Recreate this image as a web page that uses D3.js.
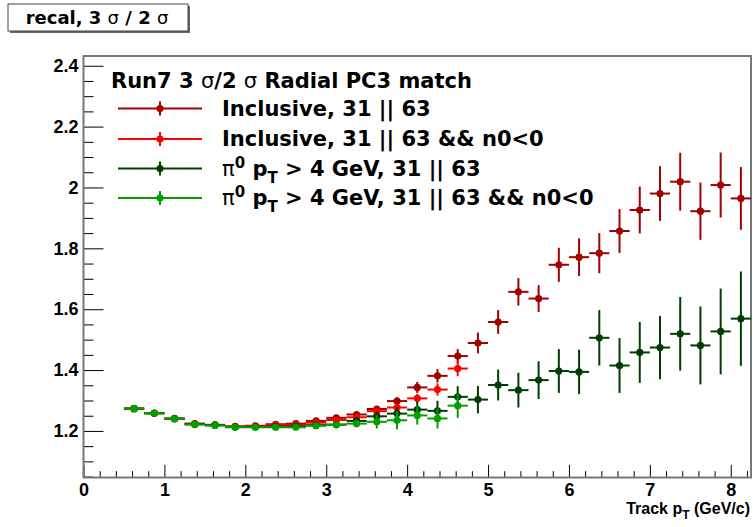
<!DOCTYPE html>
<html>
<head>
<meta charset="utf-8">
<script src="https://cdn.jsdelivr.net/npm/d3@7"></script>
<style>
  body { margin: 0; background: #fff; }
  svg { display: block; font-family: "Liberation Sans", Arial, sans-serif; }
  .wide { font-family: "DejaVu Sans", "Liberation Sans", sans-serif; }
</style>
</head>
<body>
<svg id="chart" width="753" height="527"></svg>
<script>
// bin centres (GeV/c), bins are 0.25 wide
const binCenters = [0.625, 0.875, 1.125, 1.375, 1.625, 1.875, 2.125, 2.375, 2.625, 2.875,
  3.125, 3.375, 3.625, 3.875, 4.125, 4.375, 4.625, 4.875, 5.125, 5.375, 5.625, 5.875,
  6.125, 6.375, 6.625, 6.875, 7.125, 7.375, 7.625, 7.875, 8.125];
const binHalfWidth = 0.125;

// Inclusive, 31 || 63
const incVal = [1.274, 1.259, 1.241, 1.224, 1.220, 1.215, 1.217, 1.222, 1.224, 1.233,
  1.243, 1.254, 1.272, 1.298, 1.343, 1.381, 1.446, 1.489, 1.558, 1.657, 1.635, 1.746,
  1.771, 1.784, 1.857, 1.926, 1.980, 2.019, 1.922, 2.008, 1.964];
const incErr = [0.003, 0.003, 0.003, 0.003, 0.003, 0.003, 0.003, 0.004, 0.004, 0.005,
  0.006, 0.008, 0.010, 0.013, 0.018, 0.022, 0.023, 0.034, 0.039, 0.045, 0.044, 0.056,
  0.062, 0.066, 0.072, 0.077, 0.090, 0.095, 0.094, 0.107, 0.103];

// Inclusive, 31 || 63 && n0<0
const incN0Val = [1.273, 1.258, 1.240, 1.223, 1.219, 1.214, 1.215, 1.219, 1.220, 1.227,
  1.236, 1.245, 1.265, 1.277, 1.307, 1.336, 1.405];
const incN0Err = [0.003, 0.003, 0.003, 0.003, 0.003, 0.003, 0.003, 0.004, 0.004, 0.005,
  0.006, 0.008, 0.010, 0.012, 0.015, 0.020, 0.025];

// pi0 pT > 4 GeV, 31 || 63
const pi0Val = [1.273, 1.258, 1.240, 1.222, 1.219, 1.213, 1.213, 1.214, 1.215, 1.219,
  1.221, 1.233, 1.248, 1.257, 1.270, 1.266, 1.312, 1.303, 1.351, 1.334, 1.367, 1.397,
  1.394, 1.506, 1.415, 1.458, 1.474, 1.519, 1.481, 1.527, 1.569];
const pi0Err = [0.003, 0.003, 0.003, 0.003, 0.003, 0.004, 0.004, 0.005, 0.006, 0.007,
  0.008, 0.010, 0.015, 0.020, 0.026, 0.033, 0.035, 0.045, 0.051, 0.057, 0.062, 0.072,
  0.073, 0.091, 0.090, 0.100, 0.104, 0.121, 0.128, 0.141, 0.155];

// pi0 pT > 4 GeV, 31 || 63 && n0<0
const pi0N0Val = [1.273, 1.258, 1.240, 1.221, 1.218, 1.212, 1.212, 1.212, 1.212, 1.217,
  1.220, 1.224, 1.230, 1.235, 1.251, 1.241, 1.283];
const pi0N0Err = [0.003, 0.003, 0.003, 0.003, 0.003, 0.004, 0.004, 0.005, 0.006, 0.007,
  0.009, 0.012, 0.022, 0.030, 0.030, 0.033, 0.040];

const xMajorTicks = [0, 1, 2, 3, 4, 5, 6, 7, 8];
const yMajorTicks = [1.2, 1.4, 1.6, 1.8, 2.0, 2.2, 2.4];

const series = [
  { vals: incVal, errs: incErr, color: '#a00000' },
  { vals: incN0Val, errs: incN0Err, color: '#ff0000' },
  { vals: pi0Val, errs: pi0Err, color: '#003d00' },
  { vals: pi0N0Val, errs: pi0N0Err, color: '#00a000' }
];

const frame = { left: 83.5, right: 751, top: 56, bottom: 477.5 };
const W = frame.right - frame.left;
const H = frame.bottom - frame.top;

const svg = d3.select('#chart');
const x = d3.scaleLinear().domain([0, 8.25]).range([frame.left, frame.right]);
const y = d3.scaleLinear().domain([1.047, 2.432]).range([frame.bottom, frame.top]);

// title box
svg.append('rect').attr('x', 10).attr('y', 6).attr('width', 180).attr('height', 27)
  .attr('fill', '#666');
svg.append('rect').attr('x', 8).attr('y', 4).attr('width', 180).attr('height', 27)
  .attr('fill', '#fff').attr('stroke', '#444').attr('stroke-width', 1);
const title = svg.append('text').attr('class', 'wide').attr('x', 97).attr('y', 24)
  .attr('text-anchor', 'middle').attr('font-size', 18).attr('font-weight', 'bold');
title.append('tspan').text('recal, 3 ');
title.append('tspan').attr('font-weight', 'normal').text('σ');
title.append('tspan').text(' / 2 ');
title.append('tspan').attr('font-weight', 'normal').text('σ');

// axes, ticks pointing inward like ROOT
const xTickLen = 0.03 * H, yTickLen = 0.03 * W;
const xMinor = d3.range(0, 8.25, 0.2).filter(v => Math.abs(v - Math.round(v)) > 1e-6);
const yMinor = d3.range(1.05, 2.43, 0.05).filter(v => !yMajorTicks.some(t => Math.abs(t - v) < 1e-6));

svg.append('g').attr('transform', `translate(0,${frame.bottom})`)
  .call(d3.axisBottom(x).tickValues(xMinor).tickSize(-xTickLen / 2).tickFormat(''))
  .call(g => g.select('.domain').remove());
svg.append('g').attr('transform', `translate(0,${frame.bottom})`)
  .call(d3.axisBottom(x).tickValues(xMajorTicks).tickSize(-xTickLen).tickPadding(6)
    .tickFormat(d3.format('d')))
  .call(g => g.select('.domain').remove())
  .call(g => g.selectAll('text').attr('font-size', 18).attr('font-weight', 'bold')
    .attr('font-family', '"Liberation Sans", Arial, sans-serif').attr('fill', '#000'));

svg.append('g').attr('transform', `translate(${frame.left},0)`)
  .call(d3.axisLeft(y).tickValues(yMinor).tickSize(-yTickLen / 2).tickFormat(''))
  .call(g => g.select('.domain').remove());
svg.append('g').attr('transform', `translate(${frame.left},0)`)
  .call(d3.axisLeft(y).tickValues(yMajorTicks).tickSize(-yTickLen).tickPadding(5)
    .tickFormat(d => String(+d.toFixed(1))))
  .call(g => g.select('.domain').remove())
  .call(g => g.selectAll('text').attr('font-size', 18).attr('font-weight', 'bold')
    .attr('font-family', '"Liberation Sans", Arial, sans-serif').attr('fill', '#000'));

svg.append('rect').attr('x', frame.left).attr('y', frame.top)
  .attr('width', W).attr('height', H)
  .attr('fill', 'none').attr('stroke', '#777').attr('stroke-width', 2);

// x axis title
const xt = svg.append('text').attr('x', 750).attr('y', 514)
  .attr('text-anchor', 'end').attr('font-size', 16).attr('font-weight', 'bold');
xt.append('tspan').text('Track p');
xt.append('tspan').attr('dy', 5).attr('font-size', 12).text('T');
xt.append('tspan').attr('dy', -5).text(' (GeV/c)');

// data points with error bars
series.forEach(s => {
  const pts = s.vals.map((v, i) => ({ x: binCenters[i], v, e: s.errs[i] }));
  const g = svg.append('g').attr('stroke', s.color).attr('fill', s.color);
  g.selectAll('.hbar').data(pts).join('line')
    .attr('x1', d => x(d.x - binHalfWidth)).attr('x2', d => x(d.x + binHalfWidth))
    .attr('y1', d => y(d.v)).attr('y2', d => y(d.v)).attr('stroke-width', 2);
  g.selectAll('.vbar').data(pts).join('line')
    .attr('x1', d => x(d.x)).attr('x2', d => x(d.x))
    .attr('y1', d => y(d.v - d.e)).attr('y2', d => y(d.v + d.e)).attr('stroke-width', 2);
  g.selectAll('circle').data(pts).join('circle')
    .attr('cx', d => x(d.x)).attr('cy', d => y(d.v)).attr('r', 3.6).attr('stroke', 'none');
});

// legend
const hdr = svg.append('text').attr('class', 'wide').attr('x', 111).attr('y', 88)
  .attr('font-size', 21).attr('font-weight', 'bold');
hdr.append('tspan').text('Run7 3 ');
hdr.append('tspan').attr('font-weight', 'normal').text('σ');
hdr.append('tspan').text('/2 ');
hdr.append('tspan').attr('font-weight', 'normal').text('σ');
hdr.append('tspan').text(' Radial PC3 match');

const legendY = [108.5, 139, 168.5, 198];
const legendLabels = [
  'Inclusive, 31 || 63',
  'Inclusive, 31 || 63 && n0<0',
  ' > 4 GeV, 31 || 63',
  ' > 4 GeV, 31 || 63 && n0<0'
];
series.forEach((s, i) => {
  const ly = legendY[i];
  const g = svg.append('g').attr('stroke', s.color).attr('fill', s.color);
  g.append('line').attr('x1', 118).attr('x2', 202).attr('y1', ly).attr('y2', ly).attr('stroke-width', 2);
  g.append('line').attr('x1', 160).attr('x2', 160).attr('y1', ly - 7).attr('y2', ly + 7).attr('stroke-width', 2);
  g.append('circle').attr('cx', 160).attr('cy', ly).attr('r', 3.6).attr('stroke', 'none');

  const t = svg.append('text').attr('class', 'wide').attr('x', 222).attr('y', ly + 7)
    .attr('font-size', 21).attr('font-weight', 'bold');
  if (i < 2) {
    t.text(legendLabels[i]);
  } else {
    t.append('tspan').attr('font-weight', 'normal').text('π');
    t.append('tspan').attr('dy', -8).attr('font-size', 15).text('0');
    t.append('tspan').attr('dy', 8).text(' p');
    t.append('tspan').attr('dy', 7).attr('font-size', 15).text('T');
    t.append('tspan').attr('dy', -7).text(legendLabels[i]);
  }
});
</script>
</body>
</html>
